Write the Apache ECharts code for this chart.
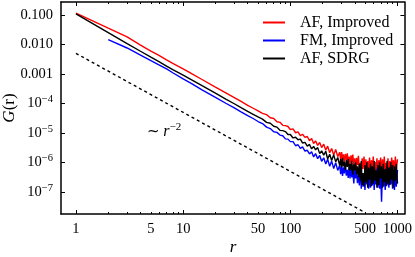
<!DOCTYPE html>
<html><head><meta charset="utf-8">
<script src="https://cdn.jsdelivr.net/npm/echarts@6/dist/echarts.min.js"></script>
<style>html,body{margin:0;padding:0;background:#fff}#c{width:415px;height:257px}</style>
</head><body><div id="c"></div>
<script>
// ---- data ----
const rValues = [1,2,3,4,5,6,7,8,10,12,15,20,25,30,35,40,45,50,
 55,60,65,70,75,80,85,90,95,100,106,112,118,124,130,137,144,151,158,165,172,180,188,196,205,214,223,233,243,254,265,277,289,
 295,301,307,313,319,326,333,340,347,354,361,368,375,383,391,399,407,415,423,432,441,450,459,468,477,487,497,507,517,527,538,549,560,571,582,594,606,618,630,643,656,669,682,696,710,724,738,753,768,783,799,815,831,848,865,882,900,918,936,955,974,1000];

const gAFImproved = [0.115,0.0355,0.0182,0.00955,0.0060,0.00417,0.0030,0.00229,0.00148,0.00102,6.5e-4,3.6e-4,2.3e-4,1.58e-4,1.15e-4,8.7e-5,6.9e-5,5.6e-5,
 4.6e-5,4.2e-5,3.3e-5,3.1e-5,2.4e-5,2.3e-5,1.82e-5,1.78e-5,1.66e-5,1.32e-5,1.38e-5,1.02e-5,1.10e-5,8.1e-6,9.1e-6,7.1e-6,7.6e-6,5.5e-6,6.5e-6,4.4e-6,5.4e-6,3.8e-6,4.8e-6,3.2e-6,4.2e-6,2.6e-6,3.6e-6,2.14e-6,3.0e-6,1.78e-6,2.75e-6,1.58e-6,2.24e-6,
 1.17e-6,2.24e-6,1.29e-6,1.9e-6,9.5e-7,1.95e-6,1.23e-6,2.04e-6,1.02e-6,1.58e-6,
 7.9e-7,1.74e-6,1.10e-6,1.86e-6,7.6e-7,1.38e-6,6.6e-7,1.45e-6,8.1e-7,1.70e-6,
 4.9e-7,9.8e-7,4.3e-7,1.38e-6,6.0e-7,1.58e-6,5.2e-7,1.29e-6,4.0e-7,1.12e-6,
 6.5e-7,1.48e-6,4.6e-7,1.20e-6,5.6e-7,1.58e-6,4.3e-7,1.05e-6,4.9e-7,1.38e-6,
 4.0e-7,1.20e-6,6.0e-7,1.48e-6,4.6e-7,1.29e-6,5.6e-7,1.58e-6,4.3e-7,9.8e-7,
 5.2e-7,1.38e-6,4.0e-7,1.12e-6,4.9e-7,1.48e-6,6.5e-7,1.20e-6,4.6e-7,1.58e-6,
 5.6e-7,1.29e-6];

const gFMImproved = [null,0.0146,0.0076,0.00437,0.00282,0.0020,0.00148,0.0011,6.8e-4,4.7e-4,2.9e-4,1.62e-4,1.02e-4,7.1e-5,5.1e-5,3.9e-5,3.1e-5,2.45e-5,
 2.09e-5,1.58e-5,1.41e-5,1.10e-5,1.05e-5,8.5e-6,8.1e-6,6.3e-6,6.2e-6,5.1e-6,5.1e-6,3.7e-6,4.0e-6,3.0e-6,3.4e-6,2.45e-6,2.6e-6,1.95e-6,2.3e-6,1.55e-6,2.0e-6,1.35e-6,1.74e-6,1.10e-6,1.45e-6,8.9e-7,1.29e-6,7.4e-7,1.12e-6,6.2e-7,9.8e-7,5.4e-7,8.1e-7,
 4.0e-7,7.9e-7,3.5e-7,6.9e-7,4.3e-7,8.3e-7,3.6e-7,5.7e-7,3.0e-7,6.8e-7,
 2.9e-7,7.9e-7,3.1e-7,5.4e-7,1.95e-7,5.7e-7,2.9e-7,6.0e-7,2.0e-7,3.6e-7,
 1.66e-7,6.8e-7,1.29e-7,4.4e-7,1.51e-7,4.0e-7,1.17e-7,5.6e-7,1.82e-7,4.8e-7,
 1.29e-7,3.6e-7,1.41e-7,6.8e-7,1.66e-7,5.2e-7,1.17e-7,4.0e-7,1.82e-7,6.2e-7,
 1.41e-7,4.8e-7,1.29e-7,4.4e-7,4.7e-8,5.6e-7,1.51e-7,3.6e-7,1.17e-7,6.2e-7,
 1.66e-7,4.0e-7,1.41e-7,6.8e-7,1.82e-7,5.2e-7,1.29e-7,4.8e-7,1.17e-7,4.0e-7,
 1.51e-7,5.6e-7];

const gAFSDRG = [0.108,0.0251,0.0107,0.00589,0.00372,0.00257,0.00186,0.00141,9.1e-4,6.3e-4,4.0e-4,2.24e-4,1.41e-4,9.8e-5,7.1e-5,5.4e-5,4.3e-5,3.5e-5,
 2.95e-5,2.29e-5,2.14e-5,1.70e-5,1.58e-5,1.23e-5,1.20e-5,1.12e-5,8.9e-6,8.9e-6,6.8e-6,7.2e-6,5.9e-6,6.2e-6,4.6e-6,4.8e-6,3.6e-6,4.1e-6,2.9e-6,3.5e-6,2.7e-6,3.2e-6,2.0e-6,2.5e-6,1.78e-6,2.4e-6,1.32e-6,1.9e-6,1.17e-6,1.82e-6,1.05e-6,1.48e-6,7.8e-7,
 1.32e-6,6.8e-7,1.45e-6,7.4e-7,1.05e-6,5.6e-7,1.20e-6,7.1e-7,1.32e-6,5.4e-7,
 8.9e-7,5.4e-7,1.15e-6,3.9e-7,8.7e-7,5.4e-7,1.02e-6,4.0e-7,7.4e-7,3.2e-7,
 9.1e-7,2.4e-7,1.12e-6,1.74e-7,4.4e-7,1.57e-7,8.2e-7,2.14e-7,1.01e-6,1.41e-7,
 6.7e-7,2.6e-7,9.1e-7,1.57e-7,7.4e-7,1.93e-7,1.12e-6,2.4e-7,5.4e-7,1.41e-7,
 8.2e-7,1.74e-7,1.01e-6,2.9e-7,7.4e-7,1.41e-7,9.1e-7,2.14e-7,6.0e-7,1.57e-7,
 1.12e-6,1.93e-7,6.7e-7,1.74e-7,1.01e-6,2.6e-7,8.2e-7,1.41e-7,7.4e-7,2.4e-7,
 9.1e-7,1.93e-7];

// reference power law guide (~ r^-2), end points
const refR = [1, 500];
const refG = [0.005, 2e-8];

const seriesNames = ['AF, Improved', 'FM, Improved', 'AF, SDRG'];
const xTickValues = [1, 5, 10, 50, 100, 500, 1000];
const xTickLabels = ['1', '5', '10', '50', '100', '500', '1000'];
const yTickValues = [0.1, 0.01, 0.001, 1e-4, 1e-5, 1e-6, 1e-7];
const yTickLabels = ['0.100', '0.010', '0.001', '10^−4', '10^−5', '10^−6', '10^−7'];

// ---- chart ----
const FONT = 'Liberation Serif';
const pairs = (xs, ys) => xs.map((x, i) => [x, ys[i]]).filter(p => p[1] != null);
const findLabel = (vals, labs, v) => { for (let i = 0; i < vals.length; i++) { if (Math.abs(Math.log10(v) - Math.log10(vals[i])) < 1e-6) return labs[i]; } return ''; };
const xMinor = [];
[1, 10, 100].forEach(d => { for (let k = 2; k <= 9; k++) xMinor.push(k * d); });
const X_MIN = 0.725, X_MAX = 1160, Y_MIN = 1.8e-8, Y_MAX = 0.275;
const lineC = { color: '#000', width: 1.5 };

const chart = echarts.init(document.getElementById('c'), null, { renderer: 'canvas' });
chart.setOption({
  animation: false,
  grid: { left: 61, right: 10, top: 2, bottom: 43, containLabel: false },
  legend: {
    data: seriesNames, orient: 'vertical', left: 258, top: 9, icon: 'rect', itemWidth: 22, itemHeight: 2, itemGap: 1,
    textStyle: { fontFamily: FONT, fontSize: 16, lineHeight: 17, color: '#000', padding: [0, 0, 0, 10] }
  },
  xAxis: [
    { type: 'log', min: X_MIN, max: X_MAX, position: 'bottom',
      axisLine: { lineStyle: lineC }, splitLine: { show: false },
      axisTick: { inside: true, length: 4, customValues: [1, 10, 100, 1000], lineStyle: { color: '#000', width: 1 } },
      axisLabel: { customValues: xTickValues, formatter: v => findLabel(xTickValues, xTickLabels, v), margin: 8, fontFamily: FONT, fontSize: 14.5, color: '#000' } },
    { type: 'log', min: X_MIN, max: X_MAX, position: 'top',
      axisLine: { lineStyle: lineC }, splitLine: { show: false },
      axisTick: { inside: true, length: 4, customValues: [1, 10, 100, 1000], lineStyle: { color: '#000', width: 1 } },
      axisLabel: { show: false } },
    { type: 'log', min: X_MIN, max: X_MAX, position: 'bottom',
      axisLine: { show: false }, splitLine: { show: false },
      axisTick: { inside: true, length: 2, customValues: xMinor, lineStyle: { color: '#000', width: 1 } },
      axisLabel: { show: false } },
    { type: 'log', min: X_MIN, max: X_MAX, position: 'top',
      axisLine: { show: false }, splitLine: { show: false },
      axisTick: { inside: true, length: 2, customValues: xMinor, lineStyle: { color: '#000', width: 1 } },
      axisLabel: { show: false } }
  ],
  yAxis: [
    { type: 'log', min: Y_MIN, max: Y_MAX, position: 'left',
      axisLine: { lineStyle: lineC }, splitLine: { show: false },
      axisTick: { inside: true, length: 4, customValues: yTickValues, lineStyle: { color: '#000', width: 1 } },
      axisLabel: { customValues: yTickValues, margin: 8, fontFamily: FONT, fontSize: 14.5, color: '#000',
        formatter: v => { const s = findLabel(yTickValues, yTickLabels, v); const p = s.split('^'); return p.length > 1 ? p[0] + '{s|' + p[1] + '}' : s; },
        rich: { s: { fontFamily: FONT, fontSize: 10.5, color: '#000', verticalAlign: 'bottom', padding: [0, 0, 8, 0] } } } },
    { type: 'log', min: Y_MIN, max: Y_MAX, position: 'right',
      axisLine: { lineStyle: lineC }, splitLine: { show: false },
      axisTick: { inside: true, length: 4, customValues: yTickValues, lineStyle: { color: '#000', width: 1 } },
      axisLabel: { show: false } }
  ],
  series: [
    { name: seriesNames[0], type: 'line', data: pairs(rValues, gAFImproved), symbol: 'none', z: 2,
      lineStyle: { color: '#ff0000', width: 1.4 }, itemStyle: { color: '#ff0000' } },
    { name: seriesNames[1], type: 'line', data: pairs(rValues, gFMImproved), symbol: 'none', z: 3,
      lineStyle: { color: '#0000ff', width: 1.4 }, itemStyle: { color: '#0000ff' } },
    { name: seriesNames[2], type: 'line', data: pairs(rValues, gAFSDRG), symbol: 'none', z: 4,
      lineStyle: { color: '#000000', width: 1.4 }, itemStyle: { color: '#000000' } },
    { name: 'guide', type: 'line', data: pairs(refR, refG), symbol: 'none', z: 1,
      lineStyle: { color: '#000', width: 1.4, type: [3, 3] } }
  ],
  graphic: [
    { type: 'text', x: 10, y: 108, rotation: Math.PI / 2,
      style: { text: '{i|G}(r)', align: 'center', verticalAlign: 'middle', fontFamily: FONT, fontSize: 17, fill: '#000',
        rich: { i: { fontStyle: 'italic', fontFamily: FONT, fontSize: 17 } } } },
    { type: 'text', x: 233, y: 248,
      style: { text: 'r', align: 'center', verticalAlign: 'middle', fontFamily: FONT, fontStyle: 'italic', fontSize: 17, fill: '#000' } },
    { type: 'text', x: 147, y: 132,
      style: { text: '{t|~} {i|r}{s|−2}', align: 'left', verticalAlign: 'middle', fontFamily: FONT, fontSize: 15, fill: '#000',
        rich: { t: { fontFamily: 'DejaVu Sans', fontSize: 15 }, i: { fontStyle: 'italic', fontFamily: FONT, fontSize: 16 }, s: { fontFamily: FONT, fontSize: 11, verticalAlign: 'bottom', padding: [0, 0, 9, 0] } } } }
  ]
});
</script></body></html>
